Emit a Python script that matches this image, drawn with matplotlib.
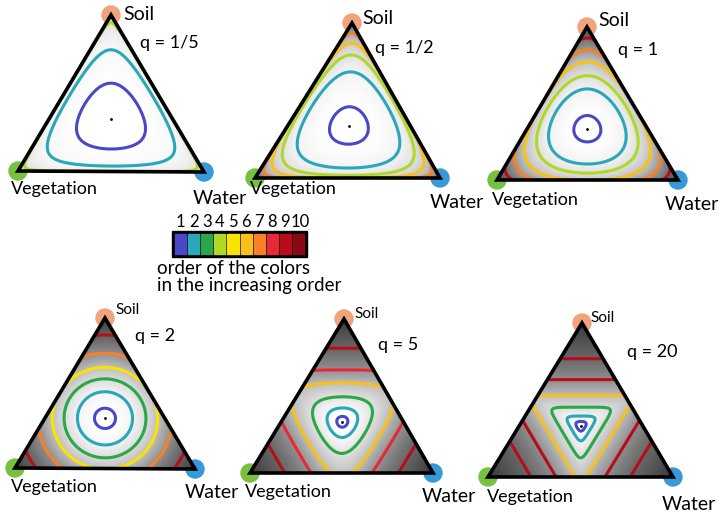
import numpy as np
import matplotlib.pyplot as plt
from matplotlib.patches import Polygon, Circle, Rectangle

plt.rcParams['font.family'] = ['Lato', 'DejaVu Sans']

# ---------------- data ----------------
q_values = [0.2, 0.5, 1, 2, 5, 20]
q_labels = ["q = 1/5", "q = 1/2", "q = 1", "q = 2", "q = 5", "q = 20"]
vertex_names = ["Soil", "Vegetation", "Water"]
vertex_colors = ["#f0a47c", "#78c040", "#3898d8"]

# order of the colors (1 .. 10)
color_order = ["#4848c8", "#28a8b8", "#28a848", "#b0d828", "#f8e400",
               "#f8c018", "#f88028", "#e82838", "#b80c1c", "#8c0818"]
color_numbers = ["1", "2", "3", "4", "5", "6", "7", "8", "9", "10"]

# contour levels of the diversity (Hill number) and colour index per panel
levels_q02 = [2.30, 2.74, 2.935]
cols_q02 = [4, 2, 1]
levels_q05 = [1.76, 2.08, 2.35, 2.63, 2.95]
cols_q05 = [7, 6, 4, 2, 1]
levels_q1 = [1.36, 1.69, 2.00, 2.33, 2.60, 2.95]
cols_q1 = [9, 7, 6, 4, 2, 1]
levels_q2 = [1.26, 1.63, 1.98, 2.29, 2.63, 2.94]
cols_q2 = [9, 7, 5, 3, 2, 1]
levels_q5 = [1.30, 1.65, 1.95, 2.37, 2.75, 2.96]
cols_q5 = [9, 8, 6, 3, 2, 1]
levels_q20 = [1.32, 1.62, 1.95, 2.30, 2.65, 2.90]
cols_q20 = [9, 9, 6, 3, 2, 1]

all_levels = [levels_q02, levels_q05, levels_q1, levels_q2, levels_q5, levels_q20]
all_cols = [cols_q02, cols_q05, cols_q1, cols_q2, cols_q5, cols_q20]

# ---------------- layout (pixels) ----------------
tri_pos = [((111, 15), (18, 171), (204, 172)),
           ((352, 23), (255, 178), (440, 178)),
           ((587, 27), (497, 180), (678, 180)),
           ((105, 318), (15, 468), (195, 469)),
           ((344, 319), (250, 473), (433, 473)),
           ((582, 323), (488, 477), (673, 477))]
soil_pos = [(123, 15), (362, 18), (598, 21), (115, 310), (354, 314), (590, 318)]
q_pos = [(140, 43), (375, 48), (618, 50), (135, 336), (378, 345), (627, 352)]
veg_pos = [(11, 189), (250, 189), (492, 200), (11, 487), (245, 492), (487, 497)]
water_pos = [(193, 198), (430, 203), (665, 204), (185, 493), (422, 497), (662, 504)]
small_soil = [False, False, False, True, True, True]


def hill(p, q):
    p = np.clip(p, 1e-12, None)
    p = p / p.sum(0)
    if q == 1:
        return np.exp(-(p * np.log(p)).sum(0))
    return (p ** q).sum(0) ** (1.0 / (1.0 - q))


fig = plt.figure(figsize=(7.2, 5.18), dpi=100)
ax = fig.add_axes([0, 0, 1, 1])
ax.set_xlim(0, 720)
ax.set_ylim(518, 0)
ax.axis('off')

for k in range(6):
    A, B, C = tri_pos[k]
    xs = np.linspace(min(B[0], A[0]) - 4, max(C[0], A[0]) + 4, 360)
    ys = np.linspace(A[1] - 4, max(B[1], C[1]) + 4, 320)
    X, Y = np.meshgrid(xs, ys)
    det = (B[1] - C[1]) * (A[0] - C[0]) + (C[0] - B[0]) * (A[1] - C[1])
    l1 = ((B[1] - C[1]) * (X - C[0]) + (C[0] - B[0]) * (Y - C[1])) / det
    l2 = ((C[1] - A[1]) * (X - C[0]) + (A[0] - C[0]) * (Y - C[1])) / det
    l3 = 1 - l1 - l2
    D = hill(np.array([l1, l2, l3]), q_values[k])

    tri = Polygon([A, B, C], closed=True, fill=False, edgecolor='black',
                  lw=2.6, joinstyle='miter', zorder=5)

    # vertex dots
    for v, c in zip([A, B, C], vertex_colors):
        ax.add_patch(Circle(v, 9, color=c, zorder=1))
    ax.add_patch(tri)

    dark = 0.82 * ((3 - D) / 2) ** 1.2
    mesh = ax.pcolormesh(X, Y, dark, cmap='Greys', vmin=0, vmax=1,
                         shading='auto', zorder=2)
    mesh.set_clip_path(tri)

    lv = np.array(all_levels[k])
    order = np.argsort(lv)
    cs = ax.contour(X, Y, D, levels=lv[order],
                    colors=[color_order[all_cols[k][i] - 1] for i in order],
                    linewidths=2.2, zorder=3)
    cs.set_clip_path(tri)

    ax.plot((A[0] + B[0] + C[0]) / 3, (A[1] + B[1] + C[1]) / 3, 'k.', ms=2, zorder=4)

    fs_soil = 11 if small_soil[k] else 14
    ax.text(*soil_pos[k], vertex_names[0], fontsize=fs_soil, va='center', ha='left')
    ax.text(*q_pos[k], q_labels[k], fontsize=13, va='center', ha='left')
    ax.text(*veg_pos[k], vertex_names[1], fontsize=13, va='center', ha='left')
    ax.text(*water_pos[k], vertex_names[2], fontsize=14, va='center', ha='left')

# colour order legend
x0, y0, w, h = 172, 231, 135, 26
ax.add_patch(Rectangle((x0, y0), w, h, color='black', zorder=2))
cw = (w - 4) / len(color_order)
for i, c in enumerate(color_order):
    ax.add_patch(Rectangle((x0 + 2 + i * cw + 1, y0 + 3), cw - 2, h - 6,
                           color=c, zorder=3))
    ax.text(x0 + 2 + (i + 0.5) * cw + (2 if i == 9 else 0), y0 - 9, color_numbers[i],
            fontsize=12, ha='center', va='center')
ax.text(157, 268, "order of the colors", fontsize=13.5, ha='left', va='center')
ax.text(157, 286, "in the increasing order", fontsize=13.5, ha='left', va='center')

fig.savefig("out.png", dpi=100)
